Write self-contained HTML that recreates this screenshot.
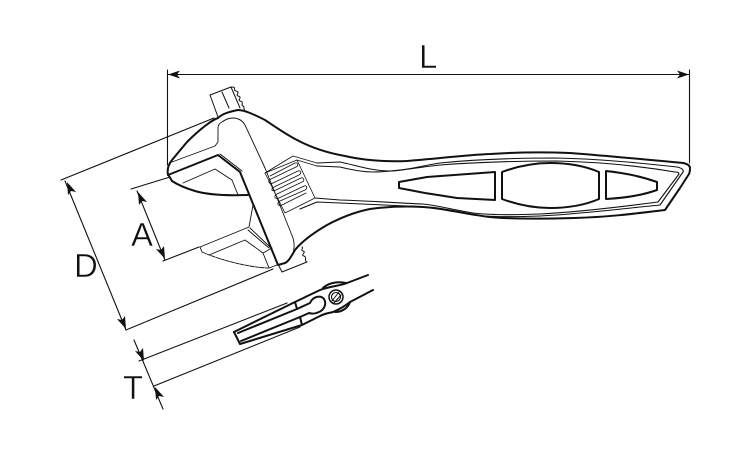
<!DOCTYPE html>
<html>
<head>
<meta charset="utf-8">
<style>
html,body{margin:0;padding:0;background:#fff;width:750px;height:450px;overflow:hidden}
svg{display:block}
text{font-family:"Liberation Sans",sans-serif;font-size:33px;fill:#111;stroke:#fff;stroke-width:.5px}
</style>
</head>
<body>
<svg width="750" height="450" viewBox="0 0 750 450" xmlns="http://www.w3.org/2000/svg" fill="none" stroke="#111" stroke-linejoin="round" stroke-linecap="round">
<!-- dimension lines -->
<g stroke-width="1.100">
<path d="M167.500 70V165M689.500 70V163M168 74.500H689"/>
<path d="M61 180L214 118M131 189L170 177M163 261L199 247M126 330L273 269"/>
<path d="M65 181L126 330M137 191L165 260"/>
<path d="M134 340L163 409M139 361L287 303M154 386L300 327"/>
</g>
<g fill="#111" stroke="none">
<path d="M168 74.500L180 70.500L177 74.500L180 78.500Z"/>
<path d="M689 74.500L677 70.500L680 74.500L677 78.500Z"/>
<path d="M67 182L68 195L71 191L76 192Z"/>
<path d="M126 329L125 316L122 320L117 319Z"/>
<path d="M138 192L139 205L142 201L147 202Z"/>
<path d="M165 259L164 246L161 250L156 249Z"/>
<path d="M144 361L143 348L140 352L135 351Z"/>
<path d="M155 387L156 400L159 396L164 397Z"/>
</g>
<!-- labels -->
<text x="419" y="68">L</text>
<text x="131" y="246">A</text>
<text x="74" y="277">D</text>
<text x="123" y="399">T</text>
<!-- top rack -->
<g stroke-width="1">
<path d="M218 117L210 95L231 87L240 108M222 92L229 108"/>
<path d="M231 87C238 87 232 90 236 91C241 92 235 95 238 96C243 97 237 100 240 101C245 102 240 105 243 106C245 107 243 109 245 111"/>
<path d="M278 264L282 272L307 262C303 260 308 258 304 256C300 255 307 252 303 251C300 250 304 248 302 247"/>
</g>
<!-- wrench main thick outline -->
<g stroke-width="2">
<path d="M168 175C167 170 168 165 172 160L187 142C200 129 212 120 218 118C222 114 228 112 238 110C245 110 255 115 265 120C277 128 287 135 297 140C312 148 328 153 345 156C362 160 385 162 407 161C435 159 465 155 490 154C520 152 545 152 570 153C610 156 650 160 683 163C688 164 690 166 690 168C690 170 690 172 689 174L680 188L665 210C640 213 610 217 575 218C540 219 510 219 490 217C470 215 445 208 423 207C405 206 385 207 370 209C355 212 340 218 327 225C315 232 303 240 295 250C291 257 288 262 285 263L278 265L240 172L218 155L168 175"/>
<path d="M169 176L172 181C178 185 185 188 195 191C205 194 220 196 248 195"/>
</g>
<!-- head inner -->
<g stroke-width="0.900">
<path d="M172 162L215 146L218 142V128C218 125 220 123 222 122C226 119 230 118 233 118C238 118 242 120 245 125L265 168L293 238C295 245 294 250 293 253C291 258 288 261 285 263"/>
<path d="M220 154L242 171"/>
<path d="M183 183L215 169L232 180L238 195"/>
<path d="M253 205L249 227L200 247L202 252"/>
<path d="M250 228L270 247M248 230L269 248"/>
<path d="M209 255L245 240L263 253L269 268"/>
<path d="M202 252C218 259 245 267 268 268" stroke-dasharray="4 1"/>
<path d="M263 253L272 248M269 268L277 265"/>
</g>
<!-- rack in body -->
<g stroke-width="0.800">
<path d="M265 173L297 160L315 198L285 213Z"/>
<path d="M270 176L295 163C298 162 299 166 296 167L271 179C267 181 269 185 273 183L298 171C301 170 302 173 299 175L274 187C270 189 272 192 276 190L301 178C304 177 305 181 302 182L277 194C273 196 275 200 279 198L304 186C307 185 308 188 305 190L280 201C276 203 278 207 282 205L306 193"/>
<path d="M265 173L293 156L317 163"/>
<path d="M297 160L317 166"/>
</g>
<!-- handle inner lines -->
<g stroke-width="1.100">
<path d="M317 163L340 162C355 165 372 171 390 171C405 171 425 165 440 163C480 159 520 158 557 158C600 159 640 163 677 167C682 168 684 170 683 172L660 205C620 209 580 214 540 216C515 217 490 217 473 215C450 211 430 207 407 206C385 205 360 204 340 203L317 202L300 209"/>
<path d="M317 166L340 167C352 170 362 172 373 172C395 172 420 167 440 165C480 162 520 161 557 161C600 162 640 166 675 172C678 172 679 173 679 174L658 202C620 207 580 212 540 214C515 215 490 215 473 213C450 209 435 205 423 204C400 203 370 201 340 200L315 198"/>
</g>
<!-- handle insets -->
<g stroke-width="2">
<path d="M399 182L427 177L495 172V200L457 198L425 193L399 188Z"/>
<path d="M502 172C518 166 535 163 550 163C567 163 585 166 599 172V199C585 205 567 208 550 208C535 208 518 205 502 199Z"/>
<path d="M606 171C625 173 643 177 657 182V190C643 195 625 198 606 199Z"/>
</g>
<!-- edge view -->
<g stroke-width="2">
<path d="M234 332L240 344L302 325L320 316C326 313 330 313 333 312C340 309 345 306 350 302L373 290"/>
<path d="M234 332L295 302L320 290C330 286 340 286 347 283L368 275"/>
<path d="M238 333L297 309L310 303C313 296 321 295 324 299C327 304 324 310 319 312C315 314 312 314 309 313L300 317L241 341"/>
<path d="M295 302L297 309M300 317L302 325"/>
<path d="M323 288C328 283 338 281 346 283M335 312C342 312 348 308 350 302"/>
</g>
<circle cx="336" cy="297" r="7" stroke-width="1.500"/>
<circle cx="336" cy="297" r="4.500" stroke-width="1.100"/>
<path d="M332 301L339 292M334 303L341 295" stroke-width="1"/>
</svg>
</body>
</html>
